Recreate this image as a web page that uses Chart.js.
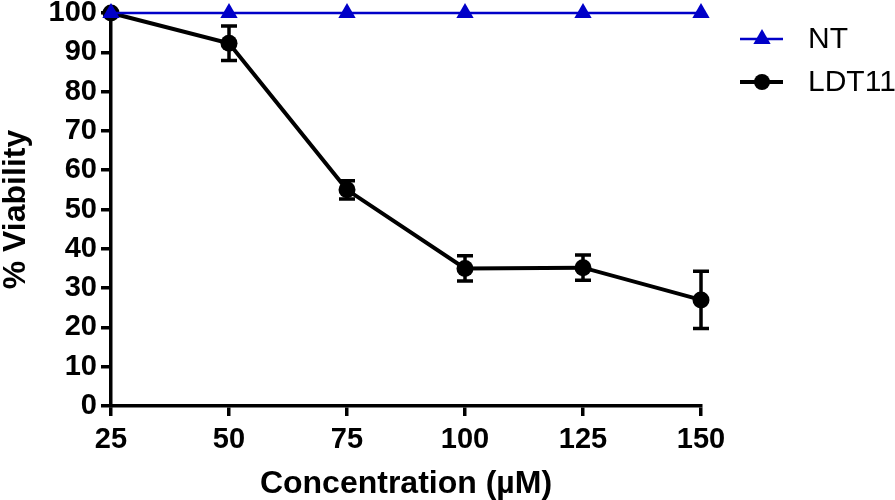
<!DOCTYPE html>
<html><head><meta charset="utf-8">
<script src="https://cdn.jsdelivr.net/npm/chart.js@4/dist/chart.umd.min.js"></script>
<style>html,body{margin:0;padding:0;background:#fff}#wrap{width:895px;height:500px}</style>
</head><body><div id="wrap"><canvas id="c" width="895" height="500"></canvas></div>
<script>
const concentrations = [25, 50, 75, 100, 125, 150];
const ntValues = [100, 100, 100, 100, 100, 100];
const ldt11Values = [100, 92.3, 55, 35, 35.2, 27];
const ldt11Errors = [0, 4.4, 2.3, 3.2, 3.2, 7.3];
const xTickValues = [25, 50, 75, 100, 125, 150];
const yTickValues = [0, 10, 20, 30, 40, 50, 60, 70, 80, 90, 100];

const FONT = '"Liberation Sans", Arial, Helvetica, sans-serif';
const BLUE = '#0000C8';

const errorBars = {
  id: 'errorBars',
  beforeDatasetsDraw(chart) {
    const ctx = chart.ctx;
    const xs = chart.scales.x, ys = chart.scales.y;
    chart.data.datasets.forEach((ds) => {
      if (!ds.errors) return;
      ctx.save();
      ctx.strokeStyle = ds.borderColor;
      ctx.lineWidth = 3.5;
      ds.data.forEach((p, i) => {
        const e = ds.errors[i];
        if (!e) return;
        const x = xs.getPixelForValue(p.x);
        const yt = ys.getPixelForValue(p.y + e);
        const yb = ys.getPixelForValue(p.y - e);
        ctx.beginPath();
        ctx.moveTo(x, yt); ctx.lineTo(x, yb);
        ctx.moveTo(x - 8, yt); ctx.lineTo(x + 8, yt);
        ctx.moveTo(x - 8, yb); ctx.lineTo(x + 8, yb);
        ctx.stroke();
      });
      ctx.restore();
    });
  }
};

const sideLegend = {
  id: 'sideLegend',
  afterDraw(chart) {
    const ctx = chart.ctx;
    const x0 = chart.chartArea.right + 39;
    chart.data.datasets.forEach((ds, i) => {
      const y = 39 + i * 43;
      ctx.save();
      ctx.strokeStyle = ds.borderColor;
      ctx.lineWidth = ds.borderWidth;
      ctx.beginPath(); ctx.moveTo(x0, y); ctx.lineTo(x0 + 43, y); ctx.stroke();
      ctx.fillStyle = ds.pointBackgroundColor;
      ctx.strokeStyle = ds.pointBorderColor;
      Chart.helpers.drawPoint(ctx, {
        pointStyle: ds.pointStyle, radius: ds.legendRadius, rotation: 0, borderWidth: 0
      }, x0 + 22, y);
      ctx.fillStyle = '#000';
      ctx.font = '30px ' + FONT;
      ctx.textBaseline = 'middle';
      ctx.textAlign = 'left';
      ctx.fillText(ds.label, x0 + 68, y + 1);
      ctx.restore();
    });
  }
};

new Chart(document.getElementById('c'), {
  type: 'scatter',
  data: {
    datasets: [
      {
        label: 'NT',
        data: concentrations.map((c, i) => ({x: c, y: ntValues[i]})),
        showLine: true,
        borderColor: BLUE, backgroundColor: BLUE,
        pointBackgroundColor: BLUE, pointBorderColor: BLUE,
        borderWidth: 2.5, pointStyle: 'triangle', pointRadius: 10, pointBorderWidth: 0,
        legendRadius: 10, clip: false
      },
      {
        label: 'LDT11',
        data: concentrations.map((c, i) => ({x: c, y: ldt11Values[i]})),
        errors: ldt11Errors,
        showLine: true,
        borderColor: '#000', backgroundColor: '#000',
        pointBackgroundColor: '#000', pointBorderColor: '#000',
        borderWidth: 4, pointStyle: 'circle', pointRadius: 8.5, pointBorderWidth: 0,
        legendRadius: 8, clip: false
      }
    ]
  },
  options: {
    responsive: false,
    animation: false,
    devicePixelRatio: 1,
    layout: { padding: { left: 0, right: 194, top: 13, bottom: 0 } },
    plugins: { legend: { display: false }, tooltip: { enabled: false } },
    scales: {
      x: {
        type: 'linear', min: 25, max: 150,
        afterBuildTicks: (s) => { s.ticks = xTickValues.map(v => ({value: v})); },
        afterFit: (s) => { s.height = 94; s.paddingLeft = 0; s.paddingRight = 0; },
        border: { display: true, color: '#000', width: 3.5 },
        grid: { drawOnChartArea: false, drawTicks: true, tickLength: 10, color: '#000', lineWidth: 3.5 },
        ticks: { color: '#000', font: { family: FONT, size: 29, weight: 'bold', lineHeight: 1 }, padding: 9, maxRotation: 0 },
        title: { display: true, text: 'Concentration (\u00B5M)', color: '#000',
          font: { family: FONT, size: 32, weight: 'bold', lineHeight: 1.0 }, padding: 0 }
      },
      y: {
        type: 'linear', min: 0, max: 100,
        afterBuildTicks: (s) => { s.ticks = yTickValues.map(v => ({value: v})); },
        afterFit: (s) => { s.width = 111; s.paddingTop = 0; s.paddingBottom = 0; },
        border: { display: true, color: '#000', width: 3.5 },
        grid: { drawOnChartArea: false, drawTicks: true, tickLength: 10, color: '#000', lineWidth: 3.5 },
        ticks: { color: '#000', font: { family: FONT, size: 29, weight: 'bold', lineHeight: 1 }, padding: 4 },
        title: { display: true, text: '% Viability', color: '#000',
          font: { family: FONT, size: 32, weight: 'bold', lineHeight: 1.0 }, padding: 0 }
      }
    }
  },
  plugins: [errorBars, sideLegend]
});
</script>
</body></html>
